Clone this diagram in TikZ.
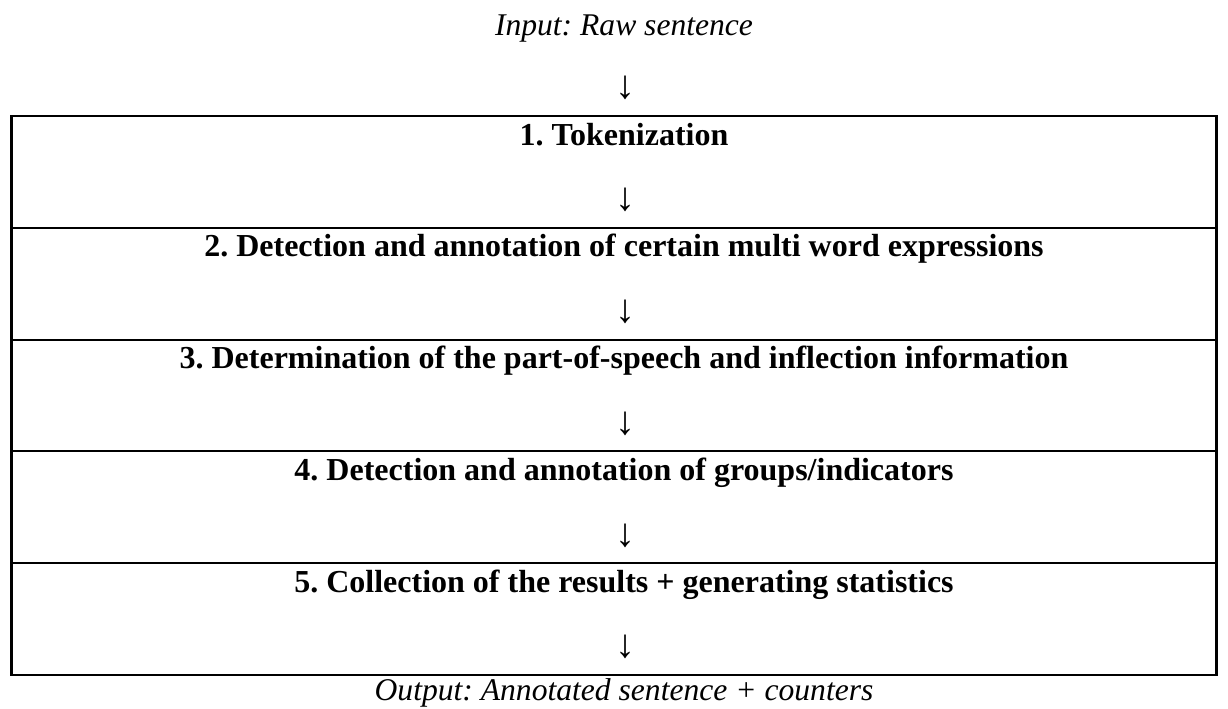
\documentclass[tikz,border=0pt]{standalone}
\usepackage{fontspec}
\setmainfont{Liberation Serif}
\frenchspacing
\tikzset{
  txt/.style={anchor=base, inner sep=0pt},
  stepname/.style={txt, font=\fontsize{24}{28}\selectfont\bfseries},
  io/.style={txt, font=\fontsize{23.7}{28}\selectfont\itshape},
  arr/.style={anchor=center, inner sep=0pt, font=\fontsize{30}{34}\selectfont},
  rule/.style={line width=1.6pt, black}
}
\begin{document}
\begin{tikzpicture}[x=0.75pt,y=-0.75pt]
\useasboundingbox (0,0) rectangle (1228,708);
% box and row separators
\draw[rule] (11.5,116) rectangle (1216.5,675);
\foreach \yy in {227.8,339.6,451.4,563.2}{\draw[rule] (11.5,\yy) -- (1216.5,\yy);}
% header
\node[io] (in) at (624,35) {Input: Raw sentence};
\node[arr] (a0) at (625,88) {↓};
% rows
\node[stepname] (s1) at (624,145) {1. Tokenization};
\node[arr] (a1) at (625,200) {↓};
\node[stepname] (s2) at (624,256.8) {2. Detection and annotation of certain multi word expressions};
\node[arr] (a2) at (625,311.8) {↓};
\node[stepname] (s3) at (624,368.6) {3. Determination of the part-of-speech and inflection information};
\node[arr] (a3) at (625,423.6) {↓};
\node[stepname] (s4) at (624,480.4) {4. Detection and annotation of groups/indicators};
\node[arr] (a4) at (625,535.4) {↓};
\node[stepname] (s5) at (624,592.2) {5. Collection of the results + generating statistics};
\node[arr] (a5) at (625,647.2) {↓};
\node[io] (out) at (624,700) {Output: Annotated sentence + counters};
\end{tikzpicture}
\end{document}
